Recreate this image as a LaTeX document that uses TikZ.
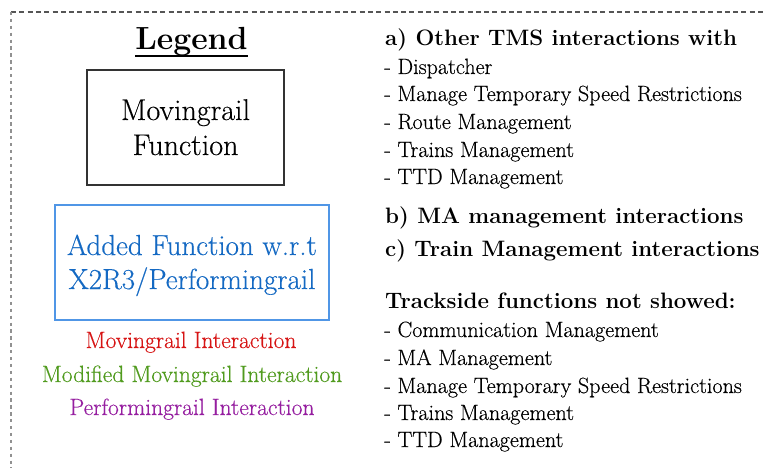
\documentclass[tikz,border=0pt]{standalone}
\usepackage{fontspec}
\newfontfamily\rmthick{Latin Modern Roman}[FakeBold=0.35]
\definecolor{addblue}{RGB}{20,105,195}
\definecolor{addborder}{RGB}{80,150,230}
\definecolor{mvred}{RGB}{215,20,20}
\definecolor{mvgreen}{RGB}{80,155,30}
\definecolor{pfpurple}{RGB}{150,30,160}
\definecolor{framegray}{RGB}{85,85,85}
\definecolor{sidegray}{RGB}{145,145,145}
\tikzset{
  headtxt/.style={anchor=base west, inner sep=0pt, font=\fontsize{22.3}{28}\selectfont\bfseries},
  itemtxt/.style={anchor=base west, inner sep=0pt, font=\rmthick\fontsize{22.1}{27}\selectfont},
  boxtxt/.style={anchor=base, inner sep=0pt, font=\rmthick\fontsize{30}{35}\selectfont},
  addtxt/.style={anchor=base, inner sep=0pt, text=addblue, font=\rmthick\fontsize{29}{35}\selectfont},
  legtxt/.style={anchor=base, inner sep=0pt, font=\rmthick\fontsize{23.5}{27}\selectfont},
}
\begin{document}
\begin{tikzpicture}[x=1pt,y=-1pt]
\useasboundingbox (0,0) rectangle (763,468);
\fill[white] (0,0) rectangle (763,468);
% frame
\coordinate (fc) at (11,12);
\coordinate (fr) at (763,12);
\coordinate (fb) at (11,468);
\draw[framegray, line width=1.3pt, dash pattern=on 5pt off 3.3pt] (fc) -- (fr);
\draw[sidegray, line width=2.6pt, dash pattern=on 3.3pt off 3.6pt] (fc) -- (fb);
% legend title
\node[anchor=base, inner sep=0pt, font=\fontsize{32}{36}\selectfont\bfseries] (leg) at (191.5,50) {Legend};
\draw[line width=2pt] (135,56) -- (248,56);
% boxes
\node[draw=black!80, line width=1.4pt, minimum width=197pt, minimum height=115pt, inner sep=0pt] (mrf) at (185.5,127.5) {};
\node[boxtxt] (mrf1) at (185.5,120) {Movingrail};
\node[boxtxt] (mrf2) at (185.5,155) {Function};
\node[draw=addborder, line width=1.4pt, minimum width=274pt, minimum height=115pt, inner sep=0pt] (add) at (192,262.5) {};
\node[addtxt] (add1) at (192,255) {Added Function w.r.t};
\node[addtxt] (add2) at (192,289) {X2R3/Performingrail};
% interaction legend
\node[legtxt, text=mvred] (li1) at (191,348) {Movingrail Interaction};
\node[legtxt, text=mvgreen] (li2) at (192,382) {Modified Movingrail Interaction};
\node[legtxt, text=pfpurple] (li3) at (192,415) {Performingrail Interaction};
% right column
\node[headtxt] (ha) at (385,46) {a) Other TMS interactions with};
\node[itemtxt] (a1) at (384,74) {- Dispatcher};
\node[itemtxt] (a2) at (384,101) {- Manage Temporary Speed Restrictions};
\node[itemtxt] (a3) at (384,129) {- Route Management};
\node[itemtxt] (a4) at (384,157) {- Trains Management};
\node[itemtxt] (a5) at (384,184) {- TTD Management};
\node[headtxt] (hb) at (385,223) {b) MA management interactions};
\node[headtxt] (hc) at (385,256) {c) Train Management interactions};
\node[headtxt] (hd) at (385,308) {Trackside functions not showed:};
\node[itemtxt] (d1) at (384,337) {- Communication Management};
\node[itemtxt] (d2) at (384,365) {- MA Management};
\node[itemtxt] (d3) at (384,393) {- Manage Temporary Speed Restrictions};
\node[itemtxt] (d4) at (384,420) {- Trains Management};
\node[itemtxt] (d5) at (384,447) {- TTD Management};
\end{tikzpicture}
\end{document}
